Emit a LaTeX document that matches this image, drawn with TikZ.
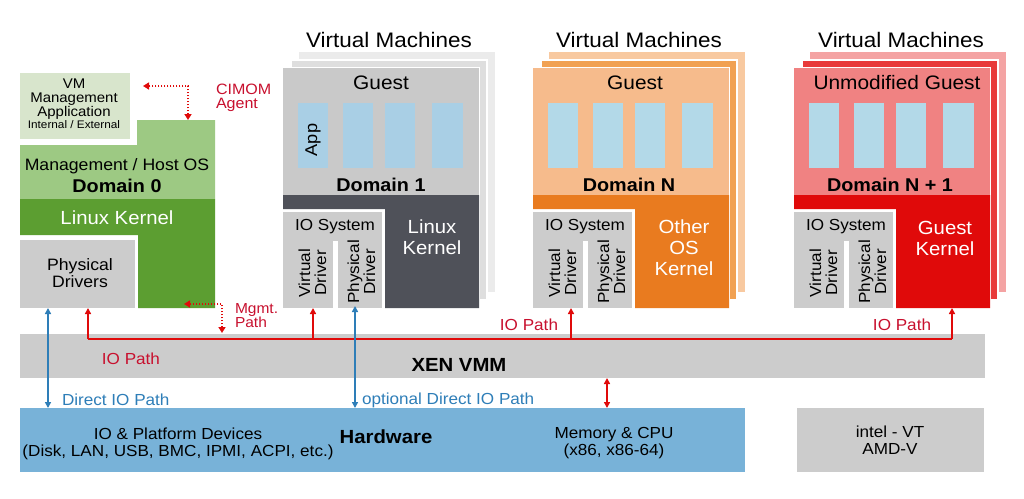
\documentclass[tikz,border=0pt]{standalone}
\usepackage{fontspec}
\setmainfont{Liberation Sans}[FakeStretch=1.07]
\usetikzlibrary{arrows.meta,calc}
\definecolor{grayA}{HTML}{CCCCCC}
\definecolor{appblue}{HTML}{A9CFE5}
\definecolor{appblueb}{HTML}{B3D9E8}
\definecolor{hwblue}{HTML}{78B2D8}
\definecolor{lgreen}{HTML}{9DC983}
\definecolor{pgreen}{HTML}{D8E5CC}
\definecolor{dgreen}{HTML}{5C9E31}
\definecolor{gyFront}{HTML}{C9C9C9}
\definecolor{gyMid}{HTML}{DEDEDE}
\definecolor{gyBack}{HTML}{EBEBEB}
\definecolor{gyKernel}{HTML}{4F5159}
\definecolor{orFront}{HTML}{F6BB8C}
\definecolor{orMid}{HTML}{F1A152}
\definecolor{orBack}{HTML}{F8C9A0}
\definecolor{orKernel}{HTML}{E97B1F}
\definecolor{rdFront}{HTML}{F08282}
\definecolor{rdMid}{HTML}{E83A3A}
\definecolor{rdBack}{HTML}{F4A3A3}
\definecolor{rdKernel}{HTML}{E00A0A}
\definecolor{pathred}{HTML}{C8102E}
\definecolor{pathblue}{HTML}{2E7EB8}
\tikzset{
  box/.style={inner sep=0pt,outer sep=0pt,anchor=north west,draw=none},
  txt/.style={inner sep=0pt,outer sep=0pt,align=center},
  fs/.style={font=\fontsize{#1}{#1}\selectfont},
  bfs/.style={font=\fontsize{#1}{#1}\selectfont\bfseries},
  redarrow/.style={draw=rdKernel,line width=1.8pt,-{Triangle[width=6pt,length=6pt]}},
  redline/.style={draw=rdKernel,line width=1.8pt},
  bluearrow/.style={draw=pathblue,line width=1.8pt,{Triangle[width=6pt,length=6pt]}-{Triangle[width=6pt,length=6pt]}},
  dotarrow/.style={draw=rdKernel,line width=2.5pt,dash pattern=on 1.5pt off 1.5pt,{Triangle[width=7pt,length=6pt]}-{Triangle[width=7pt,length=6pt]}},
}
% #1 xshift, #2 back, #3 mid, #4 front, #5 kernel, #6 suffix, #7 app blue
\newcommand\vmstack[7]{%
\begin{scope}[xshift=#1]
  \fill[#2] (299,52) rectangle (495,292);
  \draw[white,line width=1.5pt,fill=#3] (291,60) rectangle (487,300);
  \draw[white,line width=1.5pt,fill=white] (283,68) rectangle (479,308);
  \node[box,fill=#4,minimum width=196pt,minimum height=127pt] (guest#6) at (283,68) {};
  \fill[#5] (283,195) -- (479,195) -- (479,308) -- (385,308) -- (385,209) -- (283,209) -- cycle;
  \coordinate (kern#6) at (432,308);
  \node[box,fill=grayA,minimum width=99pt,minimum height=96pt] (io#6) at (283,212) {};
  \fill[white] (333,241) rectangle (338,308);
  \node[box,fill=#7,minimum width=30pt,minimum height=65pt] (appa#6) at (298,103) {};
  \node[box,fill=#7,minimum width=30pt,minimum height=65pt] (appb#6) at (343,103) {};
  \node[box,fill=#7,minimum width=30pt,minimum height=65pt] (appc#6) at (385,103) {};
  \node[box,fill=#7,minimum width=31pt,minimum height=65pt] (appd#6) at (432,103) {};
  \node[txt,fs=16] at (335,227) {IO System};
  \node[txt,rotate=90,font=\fontsize{16}{16}\selectfont] (vd#6) at (312.5,273) {Virtual\\Driver};
  \node[txt,rotate=90,font=\fontsize{16}{16}\selectfont] (pd#6) at (361.5,272) {Physical\\Driver};
\end{scope}}
\begin{document}
\begin{tikzpicture}[x=1pt,y=-1pt]
\useasboundingbox (0,0) rectangle (1024,498);
\fill[white] (0,0) rectangle (1024,498);

% ---------- Domain 0 ----------
\node[box,fill=pgreen,minimum width=110pt,minimum height=66pt] (vmapp) at (20,73) {};
\node[txt,font=\fontsize{14}{14}\selectfont] at (74,99) {VM\\Management\\Application};
\node[txt,fs=11] at (74,125) {Internal / External};
\fill[lgreen] (20,145) -- (137,145) -- (137,120) -- (215,120) -- (215,199) -- (20,199) -- cycle;
\coordinate (dom0top) at (188,120);
\coordinate (dom0right) at (215,304);
\fill[dgreen] (20,199) -- (215,199) -- (215,308) -- (138,308) -- (138,235) -- (20,235) -- cycle;
\node[box,fill=grayA,minimum width=115pt,minimum height=68pt] (pdrv) at (20,240) {};
\node[txt,fs=16.5] at (117,166) {Management / Host OS};
\node[txt,bfs=18.5] at (117,186) {Domain 0};
\node[txt,fs=19,text=white] at (117,218) {Linux Kernel};
\node[txt,font=\fontsize{16.5}{17}\selectfont] at (80,273.5) {Physical\\Drivers};

% ---------- VM stacks ----------
\vmstack{0pt}{gyBack}{gyMid}{gyFront}{gyKernel}{A}{appblue}
\vmstack{250pt}{orBack}{orMid}{orFront}{orKernel}{B}{appblueb}
\vmstack{511pt}{rdBack}{rdMid}{rdFront}{rdKernel}{C}{appblueb}

\node[txt,fs=21] at (389,40) {Virtual Machines};
\node[txt,fs=21] at (639,40) {Virtual Machines};
\node[txt,fs=21] at (901,40) {Virtual Machines};

\node[txt,fs=19.5] at (381,83) {Guest};
\node[txt,fs=19.5] at (635,83) {Guest};
\node[txt,fs=19.5] at (897,83) {Unmodified Guest};
\node[txt,rotate=90,fs=17] at (313,140) {App};

\node[txt,bfs=18.5] at (381,185) {Domain 1};
\node[txt,bfs=18.5] at (629,185) {Domain N};
\node[txt,bfs=18.5] at (890,185) {Domain N + 1};

\node[txt,text=white,font=\fontsize{19}{21}\selectfont] at (432,237) {Linux\\Kernel};
\node[txt,text=white,font=\fontsize{19}{21}\selectfont] at (684,247.5) {Other\\OS\\Kernel};
\node[txt,text=white,font=\fontsize{19}{21}\selectfont] at (945,238) {Guest\\Kernel};

% ---------- lower bars ----------
\node[box,fill=grayA,minimum width=965pt,minimum height=44pt] (xen) at (20,334) {};
\node[txt,bfs=19] at (459,365) {XEN VMM};
\node[box,fill=hwblue,minimum width=725pt,minimum height=64pt] (hw) at (20,408) {};
\node[txt,bfs=19] at (386,437) {Hardware};
\node[txt,font=\fontsize{16}{17}\selectfont] at (178,443.5) {IO \& Platform Devices\\(Disk, LAN, USB, BMC, IPMI, ACPI, etc.)};
\node[txt,font=\fontsize{16}{17}\selectfont] at (614,443.5) {Memory \& CPU\\(x86, x86-64)};
\node[box,fill=grayA,minimum width=187pt,minimum height=64pt] (intel) at (797,408) {};
\node[txt,font=\fontsize{16}{17}\selectfont] at (890,440.5) {intel - VT\\AMD-V};

% ---------- IO path ----------
\coordinate (jA) at (88,339);
\coordinate (jB) at (313,339);
\coordinate (jC) at (571,339);
\coordinate (jD) at (952,339);
\draw[redline] (jA) -- (jD);
\draw[redarrow] (jA) -- (jA |- pdrv.south);
\draw[redarrow] (jB) -- (jB |- ioA.south);
\draw[redarrow] (jC) -- (jC |- ioB.south);
\draw[redarrow] (jD) -- (jD |- kernC);
\node[txt,fs=16,text=pathred] at (131,359) {IO Path};
\node[txt,fs=16,text=pathred] at (529,325) {IO Path};
\node[txt,fs=16,text=pathred] at (902,325) {IO Path};

% memory arrow
\coordinate (mA) at (607,378);
\draw[draw=rdKernel,line width=1.8pt,{Triangle[width=6pt,length=6pt]}-{Triangle[width=6pt,length=6pt]}] (mA) -- (mA |- hw.north);

% direct IO paths
\coordinate (dA) at (48,308);
\draw[bluearrow] (dA) -- (dA |- hw.north);
\coordinate (dB) at (355,306);
\draw[bluearrow] (dB) -- (dB |- hw.north);
\node[txt,fs=16,text=pathblue,anchor=west] at (62,400) {Direct IO Path};
\node[txt,fs=16,text=pathblue,anchor=west] at (362,400) {optional Direct IO Path};

% management paths
\coordinate (cimA) at (188,86);
\coordinate (vmappE) at (143,86);
\draw[dotarrow] (dom0top) -- (cimA) -- (vmappE);
\node[txt,text=pathred,align=left,anchor=west,font=\fontsize{15}{14}\selectfont] at (216,98) {CIMOM\\Agent};
\coordinate (mgA) at (222,304);
\coordinate (mgB) at (222,333);
\coordinate (mgC) at (184,304);
\draw[dotarrow] (mgB) -- (mgA) -- (mgC);
\node[txt,text=pathred,align=left,anchor=west,font=\fontsize{14.5}{13}\selectfont] at (235,315.5) {Mgmt.\\Path};
\end{tikzpicture}
\end{document}
